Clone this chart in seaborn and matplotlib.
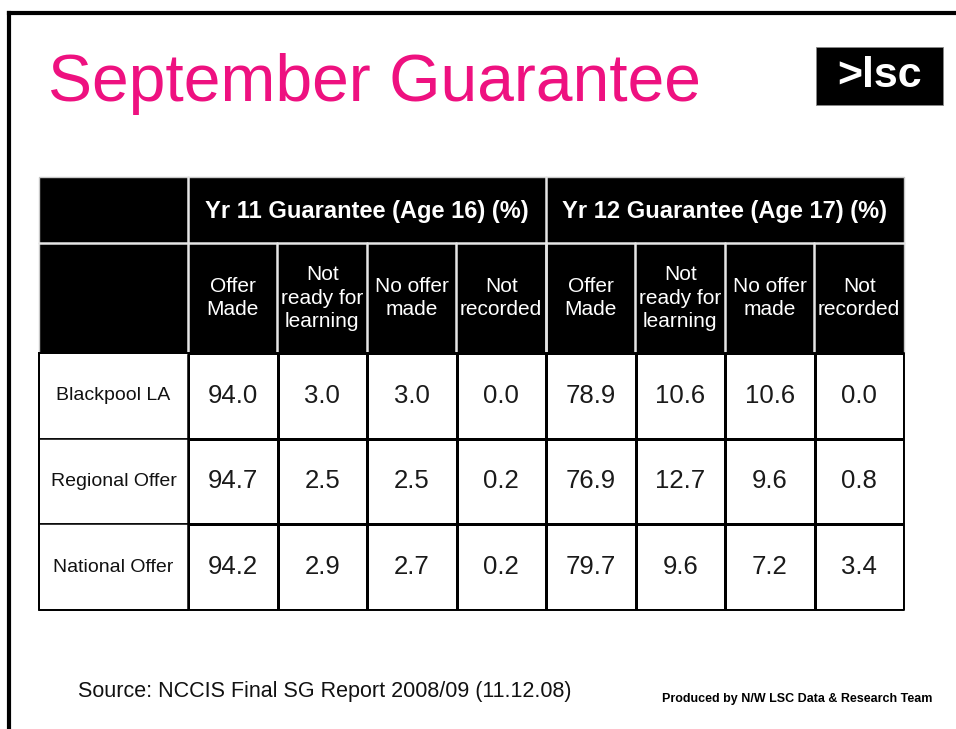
import numpy as np
import pandas as pd
import matplotlib
matplotlib.use('Agg')
import matplotlib.pyplot as plt
from matplotlib.colors import ListedColormap
from matplotlib.patches import Rectangle
import seaborn as sns

sns.set_theme(style="white")
plt.rcParams['font.family'] = ['Liberation Sans', 'DejaVu Sans']

# Table contents
areas = ["Blackpool LA", "Regional Offer", "National Offer"]
groups = ["Yr 11 Guarantee (Age 16) (%)", "Yr 12 Guarantee (Age 17) (%)"]
measures = ["Offer\nMade", "Not\nready for\nlearning", "No offer\nmade", "Not\nrecorded"]
yr11 = [[94.0, 3.0, 3.0, 0.0],
        [94.7, 2.5, 2.5, 0.2],
        [94.2, 2.9, 2.7, 0.2]]
yr12 = [[78.9, 10.6, 10.6, 0.0],
        [76.9, 12.7, 9.6, 0.8],
        [79.7, 9.6, 7.2, 3.4]]

PINK = "#EE1180"
W, H = 956, 729

# table geometry (pixels)
tab_l, lab_r, tab_r = 39, 188, 904
tab_t, head_mid, head_b, tab_b = 177, 243, 353, 610

cols = pd.MultiIndex.from_product([groups, measures])
df = pd.DataFrame(np.hstack([np.array(yr11), np.array(yr12)]), index=areas, columns=cols)

fig = plt.figure(figsize=(W / 100, H / 100), dpi=100)

# background layer in pixel coordinates
bg = fig.add_axes([0, 0, 1, 1])
bg.set_xlim(0, W)
bg.set_ylim(H, 0)
bg.axis("off")

# slide frame
bg.plot([9, W], [13, 13], color="black", lw=3, solid_capstyle="projecting")
bg.plot([9, 9], [13, H], color="black", lw=3, solid_capstyle="projecting")

# title and logo
bg.text(48, 101, "September Guarantee", color=PINK, fontsize=47.5, va="baseline", ha="left")
bg.add_patch(Rectangle((816, 47), 127, 58, facecolor="black", edgecolor="#888888", lw=0.6))
bg.text(880, 76, ">lsc", color="white", fontsize=31, fontweight="bold", ha="center", va="center")

# header blocks
bg.add_patch(Rectangle((tab_l, tab_t), tab_r - tab_l, head_b - tab_t, facecolor="black",
                       edgecolor="#c8c8c8", lw=1))
sep = dict(color="#e6e6e6", lw=1.8)
bg.plot([tab_l, tab_r], [head_mid, head_mid], **sep)
col_edges = np.linspace(lab_r, tab_r, len(cols) + 1)
mid_x = col_edges[len(measures)]
for x in [lab_r, mid_x]:
    bg.plot([x, x], [tab_t, head_b], **sep)
for x in col_edges[1:-1]:
    bg.plot([x, x], [head_mid, head_b], **sep)

for i, g in enumerate(groups):
    cx = (col_edges[i * len(measures)] + col_edges[(i + 1) * len(measures)]) / 2
    bg.text(cx, (tab_t + head_mid) / 2 + 1, g, color="white", fontsize=17, fontweight="bold",
            ha="center", va="center")
for j, (g, m) in enumerate(cols):
    cx = (col_edges[j] + col_edges[j + 1]) / 2
    bg.text(cx, (head_mid + head_b) / 2, m, color="white", fontsize=15, ha="center",
            va="center", linespacing=1.3)

# row label column
row_edges = np.linspace(head_b, tab_b, len(areas) + 1)
for i, a in enumerate(areas):
    bg.add_patch(Rectangle((tab_l, row_edges[i]), lab_r - tab_l, row_edges[i + 1] - row_edges[i],
                           facecolor="white", edgecolor="black", lw=1.1))
    bg.text((tab_l + lab_r) / 2, (row_edges[i] + row_edges[i + 1]) / 2, a, fontsize=14,
            ha="center", va="center", color="#111111")

# footer
bg.text(78, 692, "Source: NCCIS Final SG Report 2008/09 (11.12.08)", fontsize=15.5,
        ha="left", va="center", color="#111111")
bg.text(932, 699, "Produced by N/W LSC Data & Research Team", fontsize=9, fontweight="bold",
        ha="right", va="center", color="black")

# data cells via seaborn heatmap
hm = fig.add_axes([lab_r / W, 1 - tab_b / H, (tab_r - lab_r) / W, (tab_b - head_b) / H])
sns.heatmap(df, ax=hm, annot=True, fmt=".1f", cmap=ListedColormap(["white"]), cbar=False,
            linewidths=1.0, linecolor="black",
            annot_kws={"fontsize": 18.5, "color": "#1a1a1a"})
hm.set_xticks([])
hm.set_yticks([])
hm.set_xlabel("")
hm.set_ylabel("")

# outer border of the data block on top
ov = fig.add_axes([0, 0, 1, 1])
ov.set_xlim(0, W)
ov.set_ylim(H, 0)
ov.axis("off")
ov.patch.set_alpha(0)
ov.plot([tab_l, tab_r, tab_r, tab_l, tab_l], [head_b, head_b, tab_b, tab_b, head_b],
        color="black", lw=1.4)

fig.savefig("out.png", dpi=100)
